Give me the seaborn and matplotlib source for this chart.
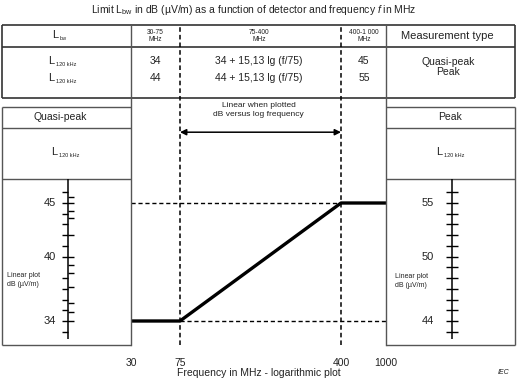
import matplotlib.pyplot as plt
import numpy as np
import seaborn as sns

# Limit line, quasi-peak detector (dB uV/m) vs frequency (MHz)
freq = [30, 75, 400, 1000]
qp_limit = [34, 34, 45, 45]
pk_offset = 10  # peak limit = quasi-peak + 10 dB

freq_ticks = [30, 75, 400, 1000]
freq_tick_labels = ['30', '75', '400', '1000']

# rulers on the side panels
qp_major = [34, 40, 45]
qp_minor_left = [33, 35, 36, 37, 38, 41, 42, 43, 44, 46]
qp_minor_right = [34.8, 35.7, 37.2, 38.5, 39.2, 42, 43.6, 44.3, 45.6]
pk_ticks = list(range(43, 57))
pk_labels = [44, 50, 55]
ruler_span = (32.3, 47.2)

# table content
bands = ['30-75\nMHz', '75-400\nMHz', '400-1 000\nMHz']
band_x = [155, 259, 364]
table_qp = ['34', '34 + 15,13 lg (f/75)', '45']
table_pk = ['44', '44 + 15,13 lg (f/75)', '55']

W, H = 522, 383
TXT = '#222222'
LINE = '#555555'

sns.set_theme(style='white')
plt.rcParams['font.family'] = ['Liberation Sans', 'DejaVu Sans']
plt.rcParams['mathtext.fontset'] = 'custom'
plt.rcParams['mathtext.rm'] = 'Liberation Sans'
plt.rcParams['mathtext.it'] = 'Liberation Sans:italic'

fig = plt.figure(figsize=(W / 100, H / 100), dpi=100)


def box(x0, y0, x1, y1):
    return [x0 / W, 1 - y1 / H, (x1 - x0) / W, (y1 - y0) / H]


# overlay in pixel units for the table / panel frames
bg = fig.add_axes([0, 0, 1, 1])
bg.set_xlim(0, W)
bg.set_ylim(H, 0)
bg.axis('off')

# table frame
bg.hlines([25, 47, 98], 2, 515, color='#333333', lw=1.2)
bg.vlines([2, 515], 25, 98, color='#333333', lw=1.2)
# side panels
for x0, x1 in [(2, 131), (386, 515)]:
    bg.hlines([107, 128, 179, 345], x0, x1, color=LINE, lw=1)
bg.vlines([2, 515], 107, 345, color=LINE, lw=1)


def sub_label(ax, x, y, sub, size=8, subsize=4):
    ax.text(x, y, 'L', fontsize=size, color=TXT, ha='left', va='center')
    ax.annotate(sub, xy=(x, y), xytext=(5.5, -2.5), textcoords='offset points',
                fontsize=subsize, color=TXT, ha='left', va='center')


# title
bg.text(254, 10, r'Limit L$_{\mathrm{bw}}$ in dB (µV/m) as a function of '
        r'detector and frequency $f$ in MHz', fontsize=7.5, color=TXT,
        ha='center', va='center')

# table header
sub_label(bg, 52, 35, 'bw')
for lab, x in zip(bands, band_x):
    bg.text(x, 36, lab, fontsize=4.8, color=TXT, ha='center', va='center',
            linespacing=1.1)
bg.text(447, 36, 'Measurement type', fontsize=8, color=TXT,
        ha='center', va='center')
# table body
sub_label(bg, 48, 61, '120 kHz')
sub_label(bg, 48, 78, '120 kHz')
for v_qp, v_pk, x in zip(table_qp, table_pk, band_x):
    bg.text(x, 61, v_qp, fontsize=7.5, color=TXT, ha='center', va='center')
    bg.text(x, 78, v_pk, fontsize=7.5, color=TXT, ha='center', va='center')
bg.text(448, 62, 'Quasi-peak', fontsize=7.5, color=TXT, ha='center', va='center')
bg.text(448, 72, 'Peak', fontsize=7.5, color=TXT, ha='center', va='center')

# panel headings
bg.text(60, 117, 'Quasi-peak', fontsize=7.5, color=TXT, ha='center', va='center')
bg.text(450, 117, 'Peak', fontsize=7.5, color=TXT, ha='center', va='center')
sub_label(bg, 51, 152, '120 kHz')
sub_label(bg, 436, 152, '120 kHz')
bg.text(7, 280, 'Linear plot\ndB (µV/m)', fontsize=5, color=TXT,
        ha='left', va='center', linespacing=1.3)
bg.text(395, 281, 'Linear plot\ndB (µV/m)', fontsize=5, color=TXT,
        ha='left', va='center', linespacing=1.3)
bg.text(504, 373, 'IEC', fontsize=5, style='italic', color=TXT,
        ha='center', va='center')

# ---- main chart: schematic log frequency axis ----
knots = np.log10(freq_ticks)
pos = [0, 49, 210, 255]


def fwd(x):
    x = np.clip(np.asarray(x, dtype=float), 1e-6, None)
    return np.interp(np.log10(x), knots, pos)


def inv(v):
    return 10 ** np.interp(v, pos, knots)


px_per_db = 10.727
ax = fig.add_axes(box(131, 25, 386, 345))
ax.set_xscale('function', functions=(fwd, inv))
ax.set_xlim(30, 1000)
ax.set_ylim(34 - (345 - 321) / px_per_db, 34 + (321 - 25) / px_per_db)
ax.patch.set_alpha(0)
for s in ['top', 'bottom']:
    ax.spines[s].set_visible(False)
for s in ['left', 'right']:
    ax.spines[s].set_color(LINE)
    ax.spines[s].set_linewidth(1)

sns.lineplot(x=freq, y=qp_limit, ax=ax, color='black', lw=2.4,
             estimator=None, sort=False)
dash = (0, (3, 2))
ax.hlines(qp_limit[-1], freq[0], freq[2], color='black', lw=1, ls=dash)
ax.hlines(qp_limit[0], freq[1], freq[-1], color='black', lw=1, ls=dash)
for f in freq[1:3]:
    ax.axvline(f, color='black', lw=1.1, ls=dash)

ax.annotate('', xy=(freq[1], 0.665), xytext=(freq[2], 0.665),
            xycoords=('data', 'axes fraction'),
            textcoords=('data', 'axes fraction'),
            arrowprops=dict(arrowstyle='<|-|>', color='black', lw=1.1,
                            mutation_scale=9, shrinkA=0, shrinkB=0))
ax.text(0.5, 0.735, 'Linear when plotted\ndB versus log frequency',
        transform=ax.transAxes, fontsize=6, color=TXT, ha='center',
        va='center', linespacing=1.3)

ax.set_xticks(freq_ticks, freq_tick_labels)
ax.xaxis.set_minor_locator(plt.NullLocator())
ax.set_yticks([])
ax.tick_params(axis='x', length=0, pad=9, labelsize=7.5, labelcolor=TXT)
ax.set_xlabel('Frequency in MHz - logarithmic plot', fontsize=7.5,
              color=TXT, labelpad=0)
ax.set_ylabel('')

# ---- side rulers ----
tk = 0.045
axl = fig.add_axes(box(2, 25, 131, 345), sharey=ax)
axr = fig.add_axes(box(386, 25, 515, 345), sharey=ax)
for a in (axl, axr):
    a.set_xlim(0, 1)
    a.axis('off')

rx = 0.512
axl.vlines(rx, *ruler_span, color='black', lw=1.1)
axl.hlines(qp_major, rx - tk, rx + tk, color='black', lw=1)
axl.hlines(qp_minor_left, rx - tk, rx, color='black', lw=1)
axl.hlines(qp_minor_right, rx, rx + tk, color='black', lw=1)
for v in qp_major:
    axl.text(0.42, v, str(v), fontsize=8, color=TXT, ha='right', va='center')

pk_qp = [t - pk_offset for t in pk_ticks]
axr.vlines(rx, *ruler_span, color='black', lw=1.1)
axr.hlines(pk_qp, rx - tk, rx + tk, color='black', lw=1)
for v in pk_labels:
    axr.text(0.37, v - pk_offset, str(v), fontsize=8, color=TXT,
             ha='right', va='center')

fig.savefig('out.png', dpi=100)
